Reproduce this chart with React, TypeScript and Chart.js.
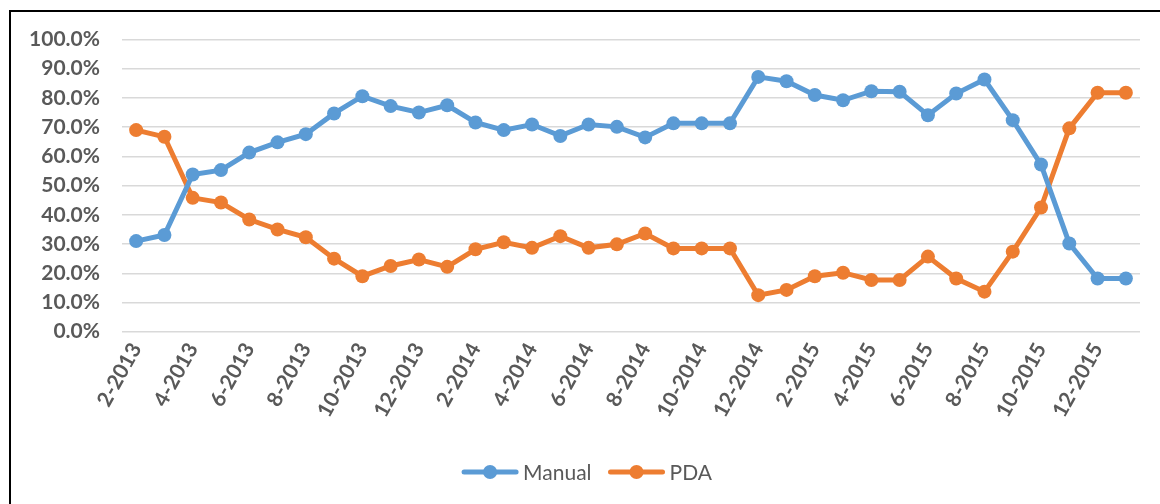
import React, { useEffect, useRef } from "react";
import { Chart, registerables } from "chart.js";

Chart.register(...registerables);

const months: string[] = [
  "2-2013", "3-2013", "4-2013", "5-2013", "6-2013", "7-2013", "8-2013", "9-2013", "10-2013", "11-2013", "12-2013",
  "1-2014", "2-2014", "3-2014", "4-2014", "5-2014", "6-2014", "7-2014", "8-2014", "9-2014", "10-2014", "11-2014", "12-2014",
  "1-2015", "2-2015", "3-2015", "4-2015", "5-2015", "6-2015", "7-2015", "8-2015", "9-2015", "10-2015", "11-2015", "12-2015",
  "1-2016",
];

const manual: number[] = [
  31.0, 33.1, 53.8, 55.3, 61.3, 64.8, 67.6, 74.7, 80.6, 77.2, 75.0,
  77.5, 71.6, 69.0, 70.9, 67.0, 70.9, 70.1, 66.5, 71.3, 71.3, 71.3, 87.2,
  85.7, 81.0, 79.2, 82.3, 82.1, 74.1, 81.5, 86.3, 72.4, 57.2, 30.2, 18.2,
  18.2,
];

const pda: number[] = [
  69.0, 66.7, 45.8, 44.2, 38.4, 35.0, 32.3, 25.0, 19.0, 22.5, 24.7,
  22.2, 28.2, 30.6, 28.7, 32.7, 28.7, 29.9, 33.6, 28.5, 28.5, 28.5, 12.5,
  14.3, 19.0, 20.2, 17.7, 17.7, 25.7, 18.2, 13.7, 27.4, 42.5, 69.6, 81.8,
  81.8,
];

const seriesNames = ["Manual", "PDA"];
const seriesColors = ["#5B9BD5", "#ED7D31"];

// Excel-style legend: line with a dot, followed by the series name
const legendPlugin = {
  id: "excelLegend",
  afterDraw(chart: any) {
    const ctx = chart.ctx as CanvasRenderingContext2D;
    ctx.save();
    ctx.font = "normal 21px Lato";
    ctx.textBaseline = "middle";
    ctx.textAlign = "left";
    const y = 472;
    const markerW = 56;
    const textGap = 5;
    const itemGap = 17;
    const widths = chart.data.datasets.map((ds: any) => ctx.measureText(ds.label).width);
    const total =
      widths.reduce((a: number, w: number) => a + markerW + textGap + w, 0) +
      itemGap * (widths.length - 1);
    let x = 587 - total / 2;
    chart.data.datasets.forEach((ds: any, i: number) => {
      const color = ds.borderColor;
      ctx.strokeStyle = color;
      ctx.fillStyle = color;
      ctx.lineWidth = 5;
      ctx.lineCap = "round";
      ctx.beginPath();
      ctx.moveTo(x + 2, y);
      ctx.lineTo(x + markerW - 2, y);
      ctx.stroke();
      ctx.beginPath();
      ctx.arc(x + markerW / 2, y, 7, 0, Math.PI * 2);
      ctx.fill();
      x += markerW + textGap;
      ctx.fillStyle = "#595959";
      ctx.fillText(ds.label, x, y + 1);
      x += widths[i] + itemGap;
    });
    ctx.restore();
  },
};

export default function App() {
  const ref = useRef<HTMLCanvasElement | null>(null);

  useEffect(() => {
    if (!ref.current) return;
    const chart = new Chart(ref.current, {
      type: "line",
      data: {
        labels: months,
        datasets: [manual, pda].map((d, i) => ({
          label: seriesNames[i],
          data: d,
          borderColor: seriesColors[i],
          backgroundColor: seriesColors[i],
          borderWidth: 5,
          pointRadius: 7,
          pointBorderWidth: 0,
          pointStyle: "circle",
          tension: 0,
        })),
      },
      options: {
        responsive: false,
        animation: false,
        layout: { padding: { top: 39.5, left: 0, right: 20, bottom: 52.3 } },
        plugins: {
          tooltip: { enabled: false },
          legend: { display: false },
        },
        scales: {
          x: {
            offset: true,
            grid: { display: false, drawTicks: false },
            border: { display: false },
            afterFit: (s: any) => {
              s.height = 120;
            },
            ticks: {
              autoSkip: false,
              minRotation: 61,
              maxRotation: 61,
              padding: 7,
              color: "#595959",
              font: { family: "Lato", size: 21, weight: "bold" },
              callback: (_v: any, i: number) => (i % 2 === 0 ? months[i] : ""),
            },
          },
          y: {
            min: 0,
            max: 100,
            grid: { color: "#d9d9d9", lineWidth: 1.5, drawTicks: false },
            border: { display: false },
            afterFit: (s: any) => {
              s.width = 122;
            },
            ticks: {
              stepSize: 10,
              padding: 22,
              color: "#595959",
              font: { family: "Lato", size: 21, weight: "bold" },
              callback: (v: any) => Number(v).toFixed(1) + "%",
            },
          },
        },
      },
      plugins: [legendPlugin],
    });
    return () => chart.destroy();
  }, []);

  return (
    <>
      <canvas
        ref={ref}
        width={1160}
        height={504}
        style={{ position: "fixed", left: 0, top: 0, width: 1160, height: 504 }}
      />
      <div
        style={{
          position: "fixed",
          left: 9,
          top: 10,
          width: 1151,
          height: 494,
          boxSizing: "border-box",
          borderLeft: "2px solid #000",
          borderTop: "2px solid #000",
          pointerEvents: "none",
        }}
      />
    </>
  );
}
